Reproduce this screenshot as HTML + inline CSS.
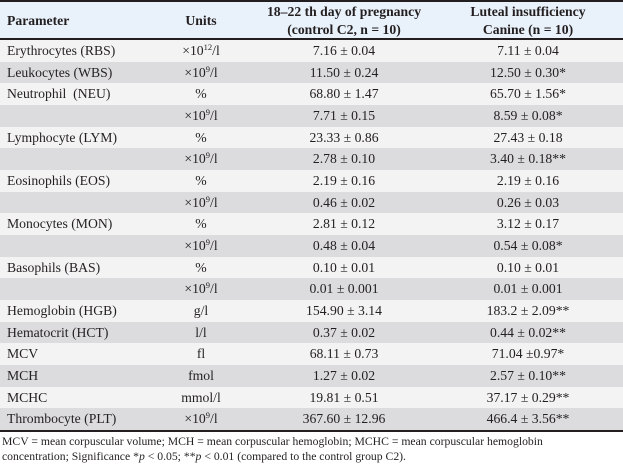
<!DOCTYPE html>
<html>
<head>
<meta charset="utf-8">
<style>
  html, body { margin:0; padding:0; }
  body { width:623px; height:465px; position:relative; overflow:hidden; background:#ffffff;
         font-family:"Liberation Serif", "Times New Roman", serif; color:#231f20; }
  .line { position:absolute; left:0; width:623px; height:2px; background:#231f20; }
  .hdr { position:absolute; left:0; top:2px; width:623px; height:36px; background:#e9f1fa; }
  .row { position:absolute; left:0; width:623px; height:21.67px; }
  .row.l { background:#f3f3f4; }
  .row.g { background:#dcdcde; }
  .c { position:absolute; top:0; height:21.67px; line-height:21.67px; font-size:13.7px; white-space:nowrap; }
  .c1 { left:7px; }
  .c2 { left:141px; width:120px; text-align:center; }
  .c3 { left:264px; width:160px; text-align:center; }
  .c4 { left:434px; width:188px; text-align:center; }
  .h { position:absolute; font-size:13.7px; font-weight:bold; white-space:nowrap; line-height:17.5px; }
  sup { font-size:8.5px; vertical-align:0; position:relative; top:-5px; line-height:0; }
  .foot { position:absolute; left:2px; top:433.5px; font-size:11.7px; line-height:15px; white-space:nowrap; }
</style>
</head>
<body>
  <div class="hdr"></div>
  <div class="line" style="top:0"></div>

  <div class="h" style="left:7px; top:12px;">Parameter</div>
  <div class="h" style="left:141px; width:120px; text-align:center; top:12px;">Units</div>
  <div class="h" style="left:264px; width:160px; text-align:center; top:3px;">18–22 th day of pregnancy<br>(control C2, n = 10)</div>
  <div class="h" style="left:434px; width:188px; text-align:center; top:3px;">Luteal insufficiency<br>Canine (n = 10)</div>

  <div class="line" style="top:38px"></div>

  <div class="row l" style="top:40px"><div class="c c1">Erythrocytes (RBS)</div><div class="c c2">×10<sup>12</sup>/l</div><div class="c c3">7.16 ± 0.04</div><div class="c c4">7.11 ± 0.04</div></div>
  <div class="row g" style="top:61.67px"><div class="c c1">Leukocytes (WBS)</div><div class="c c2">×10<sup>9</sup>/l</div><div class="c c3">11.50 ± 0.24</div><div class="c c4">12.50 ± 0.30*</div></div>
  <div class="row l" style="top:83.33px"><div class="c c1">Neutrophil&nbsp; (NEU)</div><div class="c c2">%</div><div class="c c3">68.80 ± 1.47</div><div class="c c4">65.70 ± 1.56*</div></div>
  <div class="row g" style="top:105px"><div class="c c2">×10<sup>9</sup>/l</div><div class="c c3">7.71 ± 0.15</div><div class="c c4">8.59 ± 0.08*</div></div>
  <div class="row l" style="top:126.67px"><div class="c c1">Lymphocyte (LYM)</div><div class="c c2">%</div><div class="c c3">23.33 ± 0.86</div><div class="c c4">27.43 ± 0.18</div></div>
  <div class="row g" style="top:148.33px"><div class="c c2">×10<sup>9</sup>/l</div><div class="c c3">2.78 ± 0.10</div><div class="c c4">3.40 ± 0.18**</div></div>
  <div class="row l" style="top:170px"><div class="c c1">Eosinophils (EOS)</div><div class="c c2">%</div><div class="c c3">2.19 ± 0.16</div><div class="c c4">2.19 ± 0.16</div></div>
  <div class="row g" style="top:191.67px"><div class="c c2">×10<sup>9</sup>/l</div><div class="c c3">0.46 ± 0.02</div><div class="c c4">0.26 ± 0.03</div></div>
  <div class="row l" style="top:213.33px"><div class="c c1">Monocytes (MON)</div><div class="c c2">%</div><div class="c c3">2.81 ± 0.12</div><div class="c c4">3.12 ± 0.17</div></div>
  <div class="row g" style="top:235px"><div class="c c2">×10<sup>9</sup>/l</div><div class="c c3">0.48 ± 0.04</div><div class="c c4">0.54 ± 0.08*</div></div>
  <div class="row l" style="top:256.67px"><div class="c c1">Basophils (BAS)</div><div class="c c2">%</div><div class="c c3">0.10 ± 0.01</div><div class="c c4">0.10 ± 0.01</div></div>
  <div class="row g" style="top:278.33px"><div class="c c2">×10<sup>9</sup>/l</div><div class="c c3">0.01 ± 0.001</div><div class="c c4">0.01 ± 0.001</div></div>
  <div class="row l" style="top:300px"><div class="c c1">Hemoglobin (HGB)</div><div class="c c2">g/l</div><div class="c c3">154.90 ± 3.14</div><div class="c c4">183.2 ± 2.09**</div></div>
  <div class="row g" style="top:321.67px"><div class="c c1">Hematocrit (HCT)</div><div class="c c2">l/l</div><div class="c c3">0.37 ± 0.02</div><div class="c c4">0.44 ± 0.02**</div></div>
  <div class="row l" style="top:343.33px"><div class="c c1">MCV</div><div class="c c2">fl</div><div class="c c3">68.11 ± 0.73</div><div class="c c4">71.04 ±0.97*</div></div>
  <div class="row g" style="top:365px"><div class="c c1">MCH</div><div class="c c2">fmol</div><div class="c c3">1.27 ± 0.02</div><div class="c c4">2.57 ± 0.10**</div></div>
  <div class="row l" style="top:386.67px"><div class="c c1">MCHC</div><div class="c c2">mmol/l</div><div class="c c3">19.81 ± 0.51</div><div class="c c4">37.17 ± 0.29**</div></div>
  <div class="row g" style="top:408.33px"><div class="c c1">Thrombocyte (PLT)</div><div class="c c2">×10<sup>9</sup>/l</div><div class="c c3">367.60 ± 12.96</div><div class="c c4">466.4 ± 3.56**</div></div>

  <div class="line" style="top:430px"></div>

  <div class="foot">MCV = mean corpuscular volume; MCH = mean corpuscular hemoglobin; MCHC = mean corpuscular hemoglobin<br>concentration; Significance *<i>p</i> &lt; 0.05; **<i>p</i> &lt; 0.01 (compared to the control group C2).</div>
</body>
</html>
